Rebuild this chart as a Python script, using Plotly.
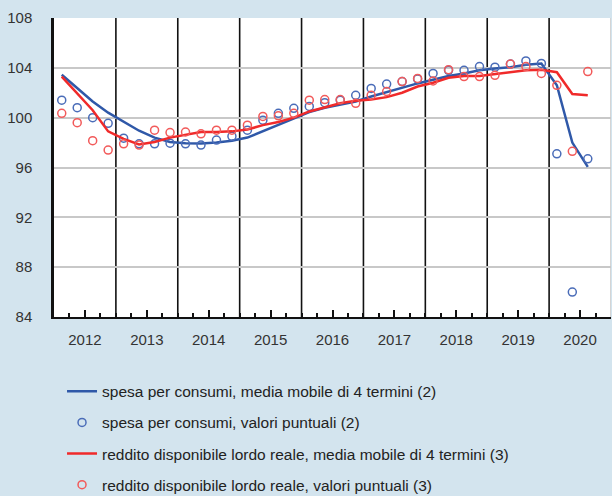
import plotly.graph_objects as go

years = [2012, 2013, 2014, 2015, 2016, 2017, 2018, 2019, 2020]
quarters = [(y, q) for y in years for q in (1, 2, 3, 4)][:35]  # 2012Q1 .. 2020Q3

spesa_mm = [103.45, 102.35, 101.3, 100.4,
            99.65, 98.95, 98.4, 98.05,
            97.95, 97.93, 98.0, 98.15,
            98.4, 98.9, 99.4, 99.95,
            100.45, 100.8, 101.05, 101.3,
            101.7, 102.05, 102.45, 102.75,
            103.05, 103.35, 103.55, 103.8,
            103.95, 104.05, 104.25, 104.35,
            102.6, 98.0, 96.05]
spesa_pt = [101.4, 100.8, 100.0, 99.55,
            98.35, 97.9, 97.9, 97.95,
            97.9, 97.8, 98.2, 98.5,
            99.0, 99.8, 100.35, 100.75,
            100.9, 101.2, 101.4, 101.8,
            102.35, 102.7, 102.9, 103.1,
            103.55, 103.8, 103.8, 104.1,
            104.05, 104.3, 104.55, 104.35,
            97.1, 86.0, 96.7]
reddito_mm = [103.3, 101.95, 100.6, 98.9,
              98.3, 97.85, 98.05, 98.4,
              98.6, 98.85, 98.85, 98.9,
              99.05, 99.4, 99.65, 100.0,
              100.5, 100.85, 101.15, 101.35,
              101.45, 101.65, 102.0, 102.5,
              102.8, 103.2, 103.35, 103.35,
              103.5, 103.6, 103.8, 103.85,
              103.65, 101.9, 101.8]
reddito_pt = [100.35, 99.6, 98.15, 97.4,
              97.9, 97.8, 99.0, 98.8,
              98.85, 98.7, 99.0, 99.0,
              99.4, 100.1, 100.15, 100.35,
              101.4, 101.45, 101.45, 101.15,
              101.8, 102.1, 102.9, 103.15,
              102.95, 103.85, 103.3, 103.3,
              103.4, 104.3, 104.1, 103.55,
              102.6, 97.3, 103.7]

y_ticks = [84, 88, 92, 96, 100, 104, 108]

names = ["spesa per consumi, media mobile di 4 termini (2)",
         "spesa per consumi, valori puntuali (2)",
         "reddito disponibile lordo reale, media mobile di 4 termini (3)",
         "reddito disponibile lordo reale, valori puntuali (3)"]

x = [y + (q - 0.5) / 4 for (y, q) in quarters]

BLUE = "#2f58a8"
BLUE_M = "#4a6cb8"
RED = "#f02a2a"
RED_M = "#f25a5a"

fig = go.Figure()
fig.add_trace(go.Scatter(x=x, y=spesa_mm, mode="lines", name=names[0],
                         line=dict(color=BLUE, width=2.5), legendgroup="a"))
fig.add_trace(go.Scatter(x=x, y=spesa_pt, mode="markers", name=names[1],
                         marker=dict(symbol="circle-open", size=8, color=BLUE_M,
                                     line=dict(width=1.5, color=BLUE_M)), legendgroup="b"))
fig.add_trace(go.Scatter(x=x, y=reddito_mm, mode="lines", name=names[2],
                         line=dict(color=RED, width=2.5), legendgroup="c"))
fig.add_trace(go.Scatter(x=x, y=reddito_pt, mode="markers", name=names[3],
                         marker=dict(symbol="circle-open", size=8, color=RED_M,
                                     line=dict(width=1.5, color=RED_M)), legendgroup="d"))

for yr in years[1:]:
    fig.add_shape(type="line", x0=yr, x1=yr, y0=0, y1=1, xref="x", yref="y domain",
                  line=dict(color="#111111", width=1.6), layer="below")
fig.add_shape(type="line", x0=years[-1] + 1, x1=years[-1] + 1, y0=0, y1=1,
              xref="x", yref="y domain", line=dict(color="#aaaaaa", width=1), layer="below")

font = "Liberation Sans, Arial, sans-serif"
fig.update_layout(
    width=612, height=496,
    margin=dict(l=54, r=1, t=18, b=179, autoexpand=False),
    paper_bgcolor="#d3e4ee",
    plot_bgcolor="#ffffff",
    font=dict(family=font, size=15, color="#333333"),
    showlegend=True,
    legend=dict(x=0.0144, y=-0.193, xanchor="left", yanchor="top",
                bgcolor="rgba(0,0,0,0)", font=dict(size=15.5, color="#222222"),
                tracegroupgap=8, itemwidth=30),
    xaxis=dict(range=[years[0], years[-1] + 1], tickvals=[y + 0.5 for y in years],
               ticktext=[str(y) for y in years], ticks="inside", ticklen=7,
               tickwidth=1.5, tickcolor="#111111", showgrid=False, zeroline=False,
               showline=True, linecolor="#111111", linewidth=2,
               ticklabelstandoff=8,
               minor=dict(dtick=0.25, tick0=years[0], ticks="inside", ticklen=4,
                          tickwidth=1.5, tickcolor="#111111", showgrid=False)),
    yaxis=dict(range=[84, 108], tickvals=y_ticks, showgrid=True, gridcolor="#c8c8c8",
               gridwidth=1.5, zeroline=False, showline=True, linecolor="#111111",
               linewidth=2.5, ticks="", ticklabelstandoff=16),
)

fig.write_html("out.html", config={"displayModeBar": False},
               post_script="document.body.style.margin='0';document.body.style.background='#d3e4ee';")
